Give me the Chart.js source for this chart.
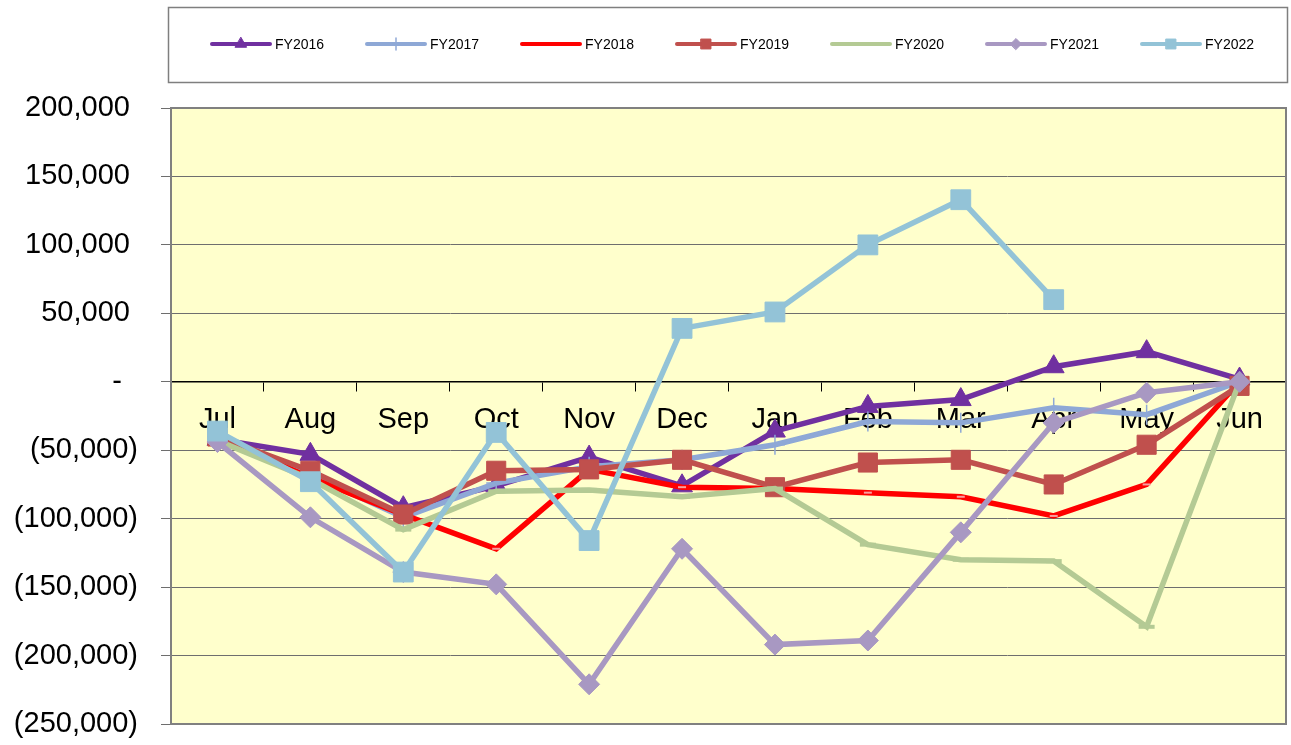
<!DOCTYPE html>
<html>
<head>
<meta charset="utf-8">
<script src="https://cdn.jsdelivr.net/npm/chart.js@4.4.1/dist/chart.umd.min.js"></script>
<style>
  html, body { margin: 0; padding: 0; background: #ffffff; overflow: hidden; }
  #wrap { width: 1291px; height: 745px; position: relative; overflow: hidden; }
  #c { display: block; }
</style>
</head>
<body>
<div id="wrap"><canvas id="c" width="1301" height="745"></canvas></div>
<script>
// ---------------- data ----------------
const categories = ['Jul','Aug','Sep','Oct','Nov','Dec','Jan','Feb','Mar','Apr','May','Jun'];
const seriesNames = ['FY2016','FY2017','FY2018','FY2019','FY2020','FY2021','FY2022'];
const fy2016 = [-42000, -53000, -92000, -76000, -55000, -76000, -36000, -18000, -13000, 11000, 22000, 2000];
const fy2017 = [-40000, -68000, -99000, -74000, -62000, -57000, -46000, -29000, -30000, -19000, -24000, 0];
const fy2018 = [-41000, -70000, -97000, -122000, -64000, -77000, -78000, -81000, -84000, -98000, -75000, 0];
const fy2019 = [-40000, -65000, -97000, -65000, -64000, -57000, -77000, -59000, -57000, -75000, -46000, -3000];
const fy2020 = [-43000, -71000, -108000, -80000, -79000, -84000, -78000, -119000, -130000, -131000, -179000, 0];
const fy2021 = [-44000, -99000, -139000, -148000, -221000, -122000, -192000, -189000, -110000, -30000, -8000, 0];
const fy2022 = [-36000, -73000, -139000, -37000, -116000, 39000, 51000, 100000, 133000, 60000, null, null];
const yTicks = [200000, 150000, 100000, 50000, 0, -50000, -100000, -150000, -200000, -250000];

// ---------------- styles ----------------
const styles = [
  { color: '#7030A0', point: 'triangle', r: 12, bw: 1, pbc: '#7030A0', lr: 6.5 },
  { color: '#8EA8D6', point: 'cross',    r: 10, bw: 1.5, pbc: '#8EA8D6', lr: 6 },
  { color: '#FF0000', point: 'line',     r: 4,  bw: 2, pbc: '#F7A0A0', lr: 3 },
  { color: '#C0504D', point: 'rect',     r: 13.5, bw: 1, pbc: '#C0504D', lr: 7 },
  { color: '#B4CA94', point: 'line',     r: 8,  bw: 4, pbc: '#B4CA94', lr: 4 },
  { color: '#A898C2', point: 'rectRot',  r: 10.5, bw: 1, pbc: '#A898C2', lr: 5.5 },
  { color: '#93C3D7', point: 'rect',     r: 14, bw: 1, pbc: '#93C3D7', lr: 7 }
];
const allData = [fy2016, fy2017, fy2018, fy2019, fy2020, fy2021, fy2022];

const datasets = allData.map((d, i) => ({
  label: seriesNames[i],
  data: d,
  borderColor: styles[i].color,
  backgroundColor: styles[i].color,
  borderWidth: 5.5,
  pointStyle: styles[i].point,
  pointRadius: styles[i].r,
  pointHoverRadius: styles[i].r,
  pointBackgroundColor: styles[i].color,
  pointBorderColor: styles[i].pbc,
  pointBorderWidth: styles[i].bw,
  tension: 0,
  spanGaps: false,
  order: 7 - i,
  xAxisID: 'x',
  yAxisID: 'y'
}));

function fmt(v) {
  if (v === 0) return '-  ';
  const s = Math.abs(v).toLocaleString('en-US');
  return v < 0 ? '(' + s + ')' : s + ' ';
}

function noPad(scale) {
  scale.paddingLeft = 0;
  scale.paddingRight = 0;
  scale.paddingTop = 0;
  scale.paddingBottom = 0;
}

// background & plot frame
const framePlugin = {
  id: 'frame',
  beforeDraw(chart) {
    const { ctx, chartArea: a } = chart;
    ctx.save();
    ctx.fillStyle = '#ffffff';
    ctx.fillRect(0, 0, chart.width, chart.height);
    ctx.fillStyle = '#FFFFCC';
    ctx.fillRect(a.left, a.top, a.right - a.left, a.bottom - a.top);
    ctx.restore();
  },
  beforeDatasetsDraw(chart) {
    const { ctx, chartArea: a } = chart;
    ctx.save();
    ctx.strokeStyle = '#808080';
    ctx.lineWidth = 2;
    ctx.strokeRect(a.left, a.top, a.right - a.left, a.bottom - a.top);
    ctx.restore();
  }
};

// custom legend: line + marker like the original
const legendPlugin = {
  id: 'customLegend',
  afterDraw(chart) {
    const ctx = chart.ctx;
    ctx.save();
    ctx.strokeStyle = '#7f7f7f';
    ctx.lineWidth = 1.5;
    ctx.strokeRect(168.5, 7.5, 1119, 75);
    const y = 44;
    chart.data.datasets.forEach((ds, i) => {
      const st = styles[i];
      const x0 = 212 + 155 * i;
      const x1 = x0 + 58;
      ctx.strokeStyle = ds.borderColor;
      ctx.lineWidth = 4;
      ctx.lineCap = 'round';
      ctx.beginPath();
      ctx.moveTo(x0, y);
      ctx.lineTo(x1, y);
      ctx.stroke();
      ctx.fillStyle = ds.pointBackgroundColor;
      ctx.strokeStyle = ds.pointBorderColor;
      ctx.lineWidth = st.bw;
      if (Chart.helpers && Chart.helpers.drawPoint && st.point !== 'line') {
        Chart.helpers.drawPoint(ctx, { pointStyle: st.point, radius: st.lr, borderWidth: st.bw, rotation: 0 }, (x0 + x1) / 2, y);
      }
      ctx.fillStyle = '#000000';
      ctx.font = '14px "Liberation Sans", Arial, sans-serif';
      ctx.textAlign = 'left';
      ctx.textBaseline = 'middle';
      ctx.fillText(ds.label, x1 + 5, y + 1);
    });
    ctx.restore();
  }
};

new Chart(document.getElementById('c'), {
  type: 'line',
  data: { labels: categories, datasets },
  options: {
    responsive: false,
    animation: false,
    devicePixelRatio: 1,
    layout: { padding: { top: 108, bottom: 21, left: 0, right: 15 } },
    plugins: {
      legend: { display: false },
      tooltip: { enabled: false }
    },
    scales: {
      y: {
        type: 'linear',
        position: 'left',
        min: -250000,
        max: 200000,
        z: -1,
        afterFit(scale) { scale.width = 171; noPad(scale); },
        afterBuildTicks(scale) { scale.ticks = yTicks.map(v => ({ value: v })); },
        ticks: {
          padding: 23,
          color: '#000000',
          font: { family: '"Liberation Sans", Arial, sans-serif', size: 29 },
          callback: (v) => fmt(v)
        },
        grid: { color: '#6e6e6e', lineWidth: 1, tickLength: 10, drawTicks: true },
        border: { display: true, color: '#808080', width: 2 }
      },
      x: {
        type: 'category',
        position: { y: 0 },
        offset: true,
        z: 0,
        afterFit(scale) { noPad(scale); },
        ticks: { display: false },
        grid: { offset: true, drawOnChartArea: false, drawTicks: true, tickLength: 9, color: '#000000', lineWidth: 1 },
        border: { display: true, color: '#000000', width: 1.5 }
      },
      x2: {
        type: 'category',
        labels: categories,
        position: { y: 0 },
        offset: true,
        z: 1,
        afterFit(scale) { noPad(scale); },
        grid: { display: false },
        border: { display: false },
        ticks: {
          padding: 13,
          color: '#000000',
          maxRotation: 0,
          autoSkip: false,
          font: { family: '"Liberation Sans", Arial, sans-serif', size: 29 }
        }
      }
    }
  },
  plugins: [framePlugin, legendPlugin]
});
</script>
</body>
</html>
